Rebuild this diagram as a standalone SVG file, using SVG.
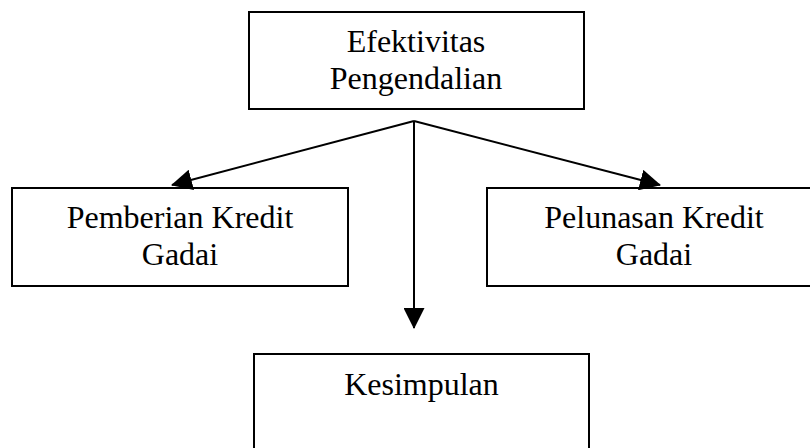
<svg xmlns="http://www.w3.org/2000/svg" width="810" height="448" viewBox="0 0 810 448">
<style>
.box{fill:#fff;stroke:#000;stroke-width:2}
.lbl{font-family:"Liberation Serif","Times New Roman",serif;font-size:32px;fill:#000;text-anchor:middle}
.conn{stroke:#000;stroke-width:2;fill:none}
</style>
<defs>
<marker id="arr" markerUnits="userSpaceOnUse" markerWidth="21" markerHeight="21" refX="20" refY="10.5" orient="auto" viewBox="0 0 21 21">
<path d="M0,0 L21,10.5 L0,21 z" fill="#000"/>
</marker>
</defs>
<g id="n-efektivitas">
<rect class="box" x="249" y="12" width="335" height="97"/>
<text class="lbl" x="416" y="52">Efektivitas</text>
<text class="lbl" x="416" y="89">Pengendalian</text>
</g>
<g id="n-pemberian">
<rect class="box" x="12" y="188" width="336" height="98"/>
<text class="lbl" x="180" y="228">Pemberian Kredit</text>
<text class="lbl" x="180" y="265">Gadai</text>
</g>
<g id="n-pelunasan">
<rect class="box" x="487" y="188" width="334" height="98"/>
<text class="lbl" x="654" y="228">Pelunasan Kredit</text>
<text class="lbl" x="654" y="265">Gadai</text>
</g>
<g id="n-kesimpulan">
<rect class="box" x="254" y="354" width="335" height="100"/>
<text class="lbl" x="421.5" y="395">Kesimpulan</text>
</g>
<g id="connectors">
<line class="conn" x1="414" y1="121" x2="172" y2="185" marker-end="url(#arr)"/>
<line class="conn" x1="414" y1="121" x2="660" y2="185" marker-end="url(#arr)"/>
<line class="conn" x1="414" y1="121" x2="414" y2="328" marker-end="url(#arr)"/>
</g>
</svg>
